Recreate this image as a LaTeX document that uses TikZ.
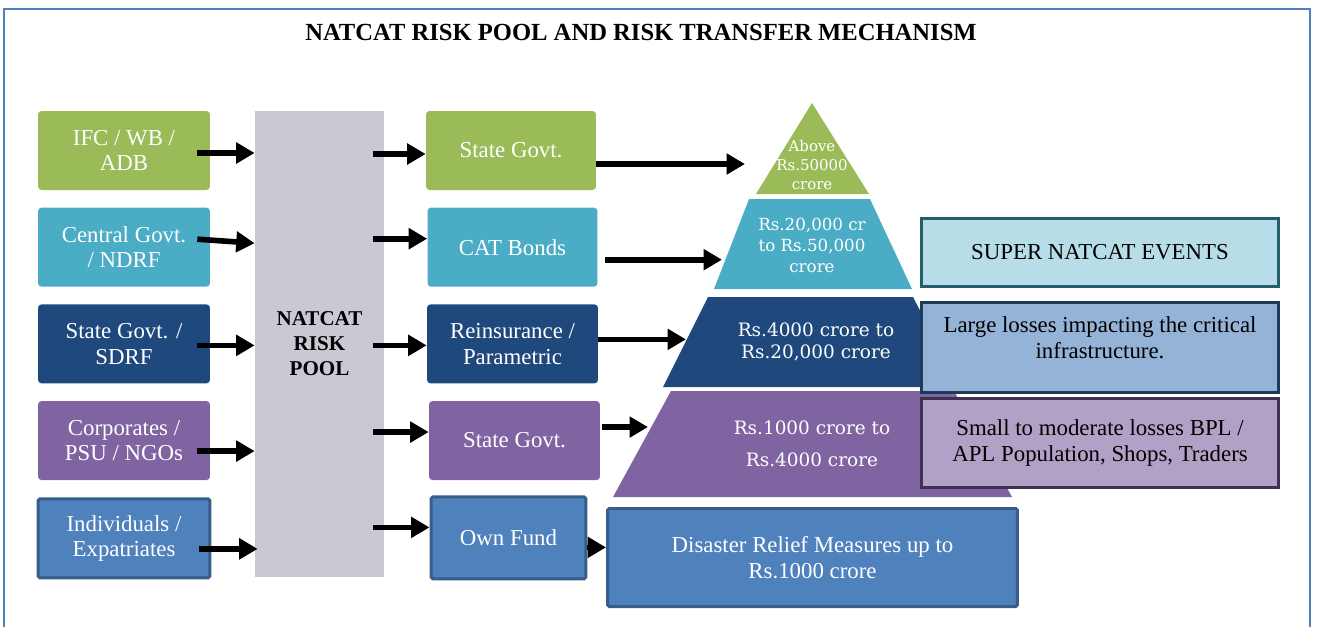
\documentclass[tikz,border=0pt]{standalone}
\usepackage{fontspec}
\setmainfont{Liberation Serif}
\newfontfamily\tierfont{DejaVu Serif}
\usepackage{tikz}
\usetikzlibrary{arrows.meta,positioning}
\definecolor{NCGreen}{RGB}{155,187,89}
\definecolor{NCTeal}{RGB}{75,172,198}
\definecolor{NCNavy}{RGB}{31,73,125}
\definecolor{NCPurple}{RGB}{128,100,162}
\definecolor{NCBlue}{RGB}{79,129,189}
\definecolor{NCBlueEdge}{RGB}{56,93,138}
\definecolor{NCPool}{RGB}{200,201,211}
\definecolor{NCSky}{RGB}{183,222,232}
\definecolor{NCSkyEdge}{RGB}{36,94,108}
\definecolor{NCSteel}{RGB}{149,179,215}
\definecolor{NCSteelEdge}{RGB}{30,58,92}
\definecolor{NCLilac}{RGB}{178,161,199}
\definecolor{NCLilacEdge}{RGB}{63,49,81}
\definecolor{NCFrame}{RGB}{79,129,189}

\begin{document}
\begin{tikzpicture}[x=0.02cm,y=-0.02cm,
        box/.style={rounded corners=2pt,text=white,font=\fontsize{13}{14.5}\selectfont,
                    inner sep=2pt,align=center,minimum width=3.44cm,minimum height=1.58cm},
        edged/.style={draw=NCBlueEdge,line width=1.7pt,rounded corners=1pt},
        pool/.style={fill=NCPool,font=\bfseries\fontsize{12}{14.2}\selectfont,align=center,
                    minimum width=2.58cm,minimum height=9.32cm,inner sep=0pt},
        note/.style={line width=1.7pt,font=\fontsize{13}{14.5}\selectfont,align=center,
                    inner sep=2pt,minimum width=7.14cm},
        tier/.style={text=white,align=center,inner sep=0pt},
        arr/.style={-{Triangle[length=10.5pt,width=11.5pt]},line width=3.2pt,black}
      ]
        \useasboundingbox (0,0) rectangle (1318,627);
        \draw[NCFrame,line width=1pt] (4,627) -- (4,9) -- (1310,9) -- (1310,627);
        \node[font=\bfseries\fontsize{14}{16}\selectfont] (T) at (641,32)
            {NATCAT RISK POOL AND RISK TRANSFER MECHANISM};

        % sources
        \node[box,fill=NCGreen] (IFC) at (124,150.5) {IFC / WB /\\ADB};
        \node[box,fill=NCTeal,below=0.34cm of IFC] (CG) {Central Govt.\\/ NDRF};
        \node[box,fill=NCNavy,below=0.34cm of CG] (SG) {State Govt. /\\SDRF};
        \node[box,fill=NCPurple,below=0.34cm of SG] (CP) {Corporates /\\PSU / NGOs};
        \node[box,fill=NCBlue,edged,below=0.34cm of CP] (IND) {Individuals /\\Expatriates};

        \node[pool] (POOL) at (319.5,344) {NATCAT\\RISK\\POOL};

        % transfer channels
        \node[box,fill=NCGreen,minimum width=3.4cm] (MSG) at (511,150.5) {State Govt.};
        \node[box,fill=NCTeal,minimum width=3.4cm,below=0.34cm of MSG,xshift=0.03cm] (CAT) {CAT Bonds};
        \node[box,fill=NCNavy,minimum width=3.42cm,below=0.34cm of CAT] (REI) {Reinsurance /\\Parametric};
        \node[box,fill=NCPurple,minimum width=3.42cm,below=0.34cm of REI,xshift=0.04cm] (MSP) {State Govt.};
        \node[box,fill=NCBlue,edged,minimum width=3.1cm,minimum height=1.64cm,
              below=0.3cm of MSP,xshift=-0.12cm] (OWN) {Own Fund};

        \draw[arr] ([xshift=-0.26cm,yshift=-0.05cm]IFC.east) -- ([yshift=-0.05cm]IFC.east -| POOL.west);
        \draw[arr] ([xshift=-0.26cm,yshift=0.16cm]CG.east) -- ([yshift=0.08cm]CG.east -| POOL.west);
        \draw[arr] ([xshift=-0.26cm,yshift=-0.03cm]SG.east) -- ([yshift=-0.03cm]SG.east -| POOL.west);
        \draw[arr] ([xshift=-0.26cm,yshift=-0.21cm]CP.east) -- ([yshift=-0.21cm]CP.east -| POOL.west);
        \draw[arr] ([xshift=-0.24cm,yshift=-0.21cm]IND.east) -- ([xshift=0.06cm,yshift=-0.21cm]IND.east -| POOL.west);

        \draw[arr] ([xshift=-0.22cm,yshift=-0.07cm]POOL.east |- MSG.west) -- ([yshift=-0.07cm]MSG.west);
        \draw[arr] ([xshift=-0.22cm,yshift=0.17cm]POOL.east |- CAT.west) -- ([yshift=0.17cm]CAT.west);
        \draw[arr] ([xshift=-0.22cm,yshift=-0.03cm]POOL.east |- REI.west) -- ([yshift=-0.03cm]REI.west);
        \draw[arr] ([xshift=-0.22cm,yshift=0.17cm]POOL.east |- MSP.west) -- ([yshift=0.17cm]MSP.west);
        \draw[arr] ([xshift=-0.22cm,yshift=0.21cm]POOL.east |- OWN.west) -- ([yshift=0.21cm]OWN.west);

        % pyramid
        \fill[NCGreen] (812,103) -- (869,194) -- (756,194) -- cycle;
        \fill[NCTeal] (749,199) -- (870,199) -- (912,289) -- (714,289) -- cycle;
        \fill[NCNavy] (708,297) -- (913,297) -- (960,387) -- (663,387) -- cycle;
        \fill[NCPurple] (671,391) -- (954,391) -- (1012,497) -- (613,497) -- cycle;
        \node[tier,font=\tierfont\fontsize{8.5}{10.8}\selectfont] (P1) at (812,165) {Above\\Rs.50000\\crore};
        \node[tier,font=\tierfont\fontsize{9.5}{12}\selectfont] (P2) at (812,245) {Rs.20,000 cr\\to Rs.50,000\\crore};
        \node[tier,font=\tierfont\fontsize{10.5}{12.3}\selectfont] (P3) at (816,342) {Rs.4000 crore to\\Rs.20,000 crore};
        \node[tier,font=\tierfont\fontsize{10.5}{18.5}\selectfont] (P4) at (812,444) {Rs.1000 crore to\\Rs.4000 crore};
        \node[box,fill=NCBlue,edged,minimum width=8.2cm,minimum height=1.96cm] (DRM) at (812.5,557.5)
            {Disaster Relief Measures up to\\Rs.1000 crore};

        \coordinate (T1) at (745,164);
        \coordinate (T2) at (722,259);
        \coordinate (T3) at (686,338);
        \coordinate (T4) at (648,425);
        \draw[arr] ([yshift=-0.27cm]MSG.east) -- ([yshift=-0.27cm]MSG.east -| T1);
        \draw[arr] ([xshift=0.14cm,yshift=-0.25cm]CAT.east) -- ([yshift=-0.25cm]CAT.east -| T2);
        \draw[arr] ([yshift=0.09cm]REI.east) -- ([yshift=0.09cm]REI.east -| T3);
        \draw[arr] ([xshift=0.04cm,yshift=0.27cm]MSP.east) -- ([yshift=0.27cm]MSP.east -| T4);
        \draw[arr] ([yshift=-0.19cm]OWN.east) -- ([yshift=-0.19cm]OWN.east -| DRM.west);

        % event classes
        \node[note,draw=NCSkyEdge,fill=NCSky,minimum height=1.36cm] (R1) at (1100,252.5) {SUPER NATCAT EVENTS};
        \node[note,draw=NCSteelEdge,fill=NCSteel,minimum height=1.8cm,text depth=0.4cm] (R2) at (1100,347.5)
            {Large losses impacting the critical\\infrastructure.};
        \node[note,draw=NCLilacEdge,fill=NCLilac,minimum height=1.78cm] (R3) at (1100,443)
            {Small to moderate losses BPL /\\APL Population, Shops, Traders};
      \end{tikzpicture}
\end{document}
